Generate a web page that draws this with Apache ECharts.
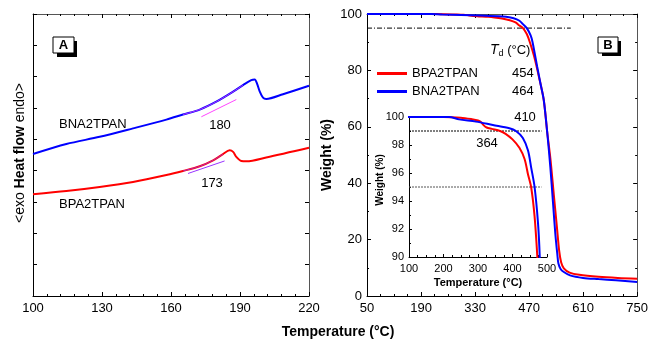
<!DOCTYPE html>
<html>
<head>
<meta charset="utf-8">
<script src="https://cdn.jsdelivr.net/npm/echarts@6/dist/echarts.min.js"></script>
<style>
  html, body { margin: 0; padding: 0; background: #fff; }
  #chart { width: 651px; height: 340px; }
</style>
</head>
<body>
<div id="chart"></div>
<script>
// ---- panel A : DSC (temperature, heat flow in arbitrary units) ----
const dscBNA = [[100,4.53],[114.5,4.85],[129,5.08],[143.5,5.35],[158,5.63],[165.2,5.79],[172.5,5.95],[179.7,6.2],[187,6.52],[191.3,6.73],[194.9,6.89],[196.4,6.91],[197.4,6.78],[198.6,6.52],[200,6.33],[201.4,6.29],[208.7,6.44],[220,6.71]];
const dscBPA = [[100,3.25],[114.5,3.35],[129,3.48],[143.5,3.64],[158,3.86],[165.2,3.99],[172.5,4.14],[178.3,4.33],[182.6,4.53],[185.5,4.65],[187,4.6],[188.4,4.44],[190.6,4.31],[192.8,4.3],[201.4,4.42],[220,4.73]];
const tanBNA = [[173.2,5.72],[188.4,6.27]];
const fitBNA = [[165.2,5.79],[172.5,5.95],[179.7,6.2],[187,6.52],[191.3,6.73]];
const tanBPA = [[167.4,3.91],[183.3,4.31]];
const fitBPA = [[165.2,3.99],[172.5,4.14],[178.3,4.33],[182.6,4.53]];
const onsetA = [180, 173];

// ---- panel B : TGA (temperature, weight %) ----
const tgaBPA = [[50,100],[100,100],[200,100],[250,99.95],[280,99.85],[300,99.75],[310,99.6],[316,99.42],[325,99.25],[340,99.15],[364,99.0],[380,98.8],[400,98.4],[420,97.8],[435,97.0],[445,95.9],[454,95.0],[464,92.9],[472,90],[483,85],[495,78],[508,69.5],[517,58],[525,49],[534,36],[542,24.5],[548,16],[553,12],[560,9.8],[575,8.3],[600,7.5],[650,6.8],[700,6.4],[750,6.15]];
const tgaBNA = [[50,100],[100,100],[216,100],[245,99.83],[294,99.67],[343,99.43],[391,99.2],[410,99.0],[430,98.5],[445,97.6],[454,96.4],[464,95.0],[474,92.4],[479,90],[491,81.3],[500,75],[508,69.5],[517,58],[525,45.8],[532,33],[538,22],[543,15],[546,11.5],[552,9.5],[560,8.5],[576,7.3],[610,6.4],[650,6],[695,5.6],[750,5.0]];
const names = ['BPA2TPAN', 'BNA2TPAN'];
const td95 = { BPA2TPAN: 454, BNA2TPAN: 464 };
const td99 = [364, 410];
const line95 = [[50,95],[578,95]];
const inset99 = [[100,99],[484,99]];
const inset95 = [[100,95],[484,95]];

const FONT = 'Liberation Sans, Arial, sans-serif';
const RED = '#ff0000', BLUE = '#0000ff';

function xAx(grid, min, max, interval, opts) {
    opts = opts || {};
    return {
        type: 'value', gridIndex: grid, min: min, max: max, interval: interval,
        position: opts.top ? 'top' : 'bottom',
        axisLine: { show: true, onZero: false, lineStyle: { color: opts.top ? '#555' : '#000', width: 1 } },
        axisTick: { show: true, inside: true, length: opts.tickLen || 4, lineStyle: { color: '#000' } },
        minorTick: { show: true, splitNumber: opts.minor || 2, length: 2, lineStyle: { color: '#000' } },
        axisLabel: { show: !opts.top, color: '#000', fontSize: opts.fs || 13, fontFamily: FONT, margin: 6 },
        splitLine: { show: false }
    };
}
function yAx(grid, min, max, interval, opts) {
    opts = opts || {};
    return {
        type: 'value', gridIndex: grid, min: min, max: max, interval: interval,
        position: opts.right ? 'right' : 'left',
        axisLine: { show: true, onZero: false, lineStyle: { color: opts.right ? '#555' : '#000', width: 1 } },
        axisTick: { show: true, inside: true, length: opts.tickLen || 4, lineStyle: { color: '#000' } },
        minorTick: { show: opts.minor > 0, splitNumber: opts.minor || 2, length: 2, lineStyle: { color: '#000' } },
        axisLabel: { show: !opts.right && !opts.noLabel, color: '#000', fontSize: opts.fs || 13, fontFamily: FONT, margin: 5 },
        splitLine: { show: false }
    };
}
function ln(data, color, xi, yi, extra) {
    return Object.assign({
        type: 'line', data: data, xAxisIndex: xi, yAxisIndex: yi,
        showSymbol: false, symbol: 'none', smooth: 0.3, animation: false,
        lineStyle: { color: color, width: 2 }, itemStyle: { color: color }
    }, extra || {});
}

const chart = echarts.init(document.getElementById('chart'));
const option = {
    animation: false,
    grid: [
        { left: 33, top: 14, width: 276, height: 282 },
        { left: 367, top: 14, width: 275, height: 282 },
        { left: 409, top: 117, width: 138, height: 140 }
    ],
    xAxis: [
        xAx(0, 100, 220, 30, { minor: 5 }),
        xAx(0, 100, 220, 30, { minor: 5, top: true }),
        xAx(1, 50, 750, 140, { minor: 4 }),
        xAx(1, 50, 750, 140, { minor: 4, top: true }),
        xAx(2, 100, 500, 100, { minor: 4, fs: 11, tickLen: 3 })
    ],
    yAxis: [
        yAx(0, 0, 9, 1, { noLabel: true }),
        yAx(0, 0, 9, 1, { right: true }),
        yAx(1, 0, 100, 20, { minor: 2 }),
        yAx(1, 0, 100, 20, { minor: 2, right: true }),
        yAx(2, 90, 100, 2, { minor: 2, fs: 11, tickLen: 3 })
    ],
    legend: {
        data: names, orient: 'vertical', left: 372, top: 62, itemGap: 5,
        itemWidth: 30, itemHeight: 3, icon: 'rect',
        textStyle: {
            fontFamily: FONT, fontSize: 13, color: '#000',
            rich: { n: { width: 100, fontSize: 13, fontFamily: FONT }, v: { fontSize: 13, fontFamily: FONT } }
        },
        formatter: function (name) { return '{n|' + name + '}{v|' + td95[name] + '}'; }
    },
    series: [
        // panel A
        ln(dscBPA, RED, 0, 0, { name: 'dscBPA' }),
        ln(dscBNA, BLUE, 0, 0, { name: 'dscBNA' }),
        ln(fitBNA, '#ff44ff', 0, 0, { name: 'fitBNA', lineStyle: { color: '#ff44ff', width: 1, opacity: 0.7 } }),
        ln(tanBNA, '#ff44ff', 0, 0, { name: 'tanBNA', smooth: false, lineStyle: { color: '#ff44ff', width: 1 } }),
        ln(fitBPA, '#9933ff', 0, 0, { name: 'fitBPA', lineStyle: { color: '#9933ff', width: 1, opacity: 0.7 } }),
        ln(tanBPA, '#9933ff', 0, 0, { name: 'tanBPA', smooth: false, lineStyle: { color: '#9933ff', width: 1 } }),
        // panel B main
        ln(line95, '#000', 2, 2, { name: 'l95', smooth: false, lineStyle: { color: '#000', width: 1, type: [5, 2, 1, 2] } }),
        ln(tgaBPA, RED, 2, 2, { name: 'BPA2TPAN' }),
        ln(tgaBNA, BLUE, 2, 2, { name: 'BNA2TPAN' }),
        // inset
        ln(inset99, '#000', 4, 4, { name: 'i99', smooth: false, lineStyle: { color: '#000', width: 1, type: [2, 1] } }),
        ln(inset95, '#000', 4, 4, { name: 'i95', smooth: false, lineStyle: { color: '#555', width: 1, type: [2, 1] } }),
        ln(tgaBPA, RED, 4, 4, { name: 'iBPA', clip: true }),
        ln(tgaBNA, BLUE, 4, 4, { name: 'iBNA', clip: true })
    ],
    graphic: [
        // panel A labels
        { type: 'text', x: 20, y: 153, rotation: Math.PI / 2, style: {
            text: '{a|<exo }{b|Heat flow}{a| endo>}', align: 'center', verticalAlign: 'middle',
            rich: { a: { fontSize: 14, fontFamily: FONT, fill: '#000' }, b: { fontSize: 14, fontWeight: 'bold', fontFamily: FONT, fill: '#000' } } } },
        { type: 'text', x: 59, y: 124, style: { text: 'BNA2TPAN', fontSize: 13, fontFamily: FONT, fill: '#000', verticalAlign: 'middle' } },
        { type: 'text', x: 59, y: 204, style: { text: 'BPA2TPAN', fontSize: 13, fontFamily: FONT, fill: '#000', verticalAlign: 'middle' } },
        { type: 'text', x: 220, y: 125, style: { text: String(onsetA[0]), fontSize: 13, fontFamily: FONT, fill: '#000', align: 'center', verticalAlign: 'middle' } },
        { type: 'text', x: 212, y: 183, style: { text: String(onsetA[1]), fontSize: 13, fontFamily: FONT, fill: '#000', align: 'center', verticalAlign: 'middle' } },
        { type: 'rect', shape: { x: 57, y: 41, width: 20, height: 16 }, style: { fill: '#000' } },
        { type: 'rect', shape: { x: 53, y: 37, width: 21, height: 16 }, style: { fill: '#fff', stroke: '#000', lineWidth: 1 } },
        { type: 'text', x: 63.5, y: 45.5, style: { text: 'A', fontSize: 13, fontWeight: 'bold', fontFamily: FONT, fill: '#000', align: 'center', verticalAlign: 'middle' } },
        // shared x title
        { type: 'text', x: 338, y: 332, style: {
            text: 'Temperature (°C)', fontSize: 14, fontWeight: 'bold', fontFamily: FONT, fill: '#000', align: 'center', verticalAlign: 'middle' } },
        // panel B
        { type: 'text', x: 327, y: 155, rotation: Math.PI / 2, style: {
            text: 'Weight (%)', fontSize: 14, fontWeight: 'bold', fontFamily: FONT, fill: '#000', align: 'center', verticalAlign: 'middle' } },
        { type: 'text', x: 490, y: 50, style: {
            text: '{t|T}{d|d}{p| (°C)}', verticalAlign: 'middle',
            rich: { t: { fontSize: 14, fontStyle: 'italic', fontFamily: FONT, fill: '#000' },
                    d: { fontSize: 9, fontFamily: FONT, fill: '#000', padding: [8, 0, 0, 0] },
                    p: { fontSize: 13, fontFamily: FONT, fill: '#000' } } } },
        { type: 'rect', shape: { x: 602, y: 41, width: 19, height: 15 }, style: { fill: '#000' } },
        { type: 'rect', shape: { x: 598, y: 37, width: 20, height: 16 }, style: { fill: '#fff', stroke: '#000', lineWidth: 1 } },
        { type: 'text', x: 608, y: 45.5, style: { text: 'B', fontSize: 13, fontWeight: 'bold', fontFamily: FONT, fill: '#000', align: 'center', verticalAlign: 'middle' } },
        { type: 'text', x: 525, y: 117, style: { text: String(td99[1]), fontSize: 13, fontFamily: FONT, fill: '#000', align: 'center', verticalAlign: 'middle' } },
        { type: 'text', x: 487, y: 143, style: { text: String(td99[0]), fontSize: 13, fontFamily: FONT, fill: '#000', align: 'center', verticalAlign: 'middle' } },
        { type: 'text', x: 380, y: 180, rotation: Math.PI / 2, style: {
            text: 'Weight (%)', fontSize: 10, fontWeight: 'bold', fontFamily: FONT, fill: '#000', align: 'center', verticalAlign: 'middle' } },
        { type: 'text', x: 478, y: 283, style: {
            text: 'Temperature (°C)', fontSize: 11, fontWeight: 'bold', fontFamily: FONT, fill: '#000', align: 'center', verticalAlign: 'middle' } }
    ]
};
chart.setOption(option);
</script>
</body>
</html>
